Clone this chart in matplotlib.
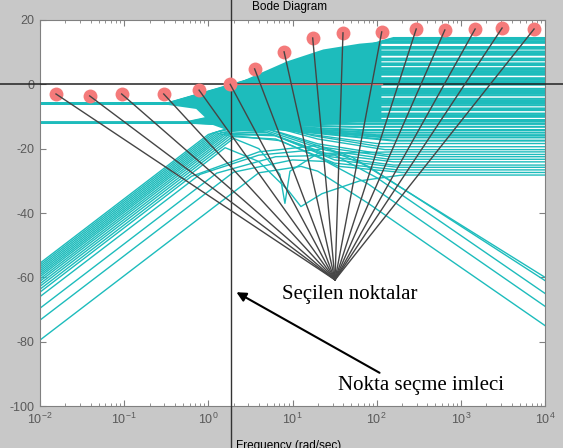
import numpy as np
import matplotlib.pyplot as plt

plt.rcParams['font.family'] = ['Liberation Sans', 'DejaVu Sans']
plt.rcParams['axes.unicode_minus'] = False
plt.rcParams['mathtext.default'] = 'regular'

# all curves: (log10 frequency [rad/s], magnitude [dB])

# curves that start flat at -6 dB and leave it towards a plateau
six_plateau = [14.4, 13.9, 13.4, 12.9, 11.6, 11.1, 10.2, 9.7, 9.2, 8.0, 7.5, 6.5,
               6.0, 5.0, 4.5, 4.0, 3.5, 3.0, 1.9, 1.4, 0.9, 0.4, -0.1,
               -6.5, -7.5, -8.0, -9.1]
six_leave = [-0.50, -0.49, -0.48, -0.47, -0.46, -0.45, -0.44, -0.43, -0.42, -0.41,
             -0.40, -0.39, -0.38, -0.37, -0.36, -0.35, -0.34, -0.33, -0.32, -0.31,
             -0.30, -0.29, -0.28, -0.45, -0.42, -0.40, -0.38]
six_settle = [2.20, 2.15, 2.10, 2.05, 2.00, 1.95, 1.90, 1.86, 1.82, 1.78, 1.74, 1.70,
              1.66, 1.62, 1.58, 1.55, 1.52, 1.49, 1.46, 1.44, 1.42, 1.40, 1.38,
              0.60, 0.80, 1.00, 1.20]

# curves that start flat at -12 dB
twelve_plateau = [-1.4, -1.9, -2.4, -2.9, -3.4, -4.5, -5.0, -5.5, -6.0, -9.6, -10.1,
                  -11.1, -11.6, -12.3, -13.2, -14.2, -15.0, -15.8, -16.5, -17.5]
twelve_leave = [-0.30, -0.28, -0.26, -0.24, -0.22, -0.20, -0.18, -0.16, -0.14, -0.12,
                -0.10, -0.08, -0.06, -0.25, -0.20, -0.15, -0.10, -0.05, 0.00, 0.05]
twelve_settle = [1.60, 1.58, 1.56, 1.54, 1.52, 1.50, 1.48, 1.46, 1.44, 1.30, 1.25,
                 1.20, 1.15, 1.60, 1.70, 1.80, 1.90, 2.00, 2.10, 2.20]

# curves rising at +20 dB/dec from the left edge
rising_curves = [
    [(-2, -55.6), (0.00, -15.6), (0.50, -11.6), (1.20, -15.5), (2.00, -18.4), (4, -18.4)],
    [(-2, -56.2), (0.05, -15.2), (0.55, -11.5), (1.25, -16.0), (2.05, -19.4), (4, -19.4)],
    [(-2, -56.8), (0.10, -14.8), (0.60, -12.0), (1.30, -17.0), (2.10, -20.3), (4, -20.3)],
    [(-2, -57.4), (0.10, -15.4), (0.60, -13.0), (1.30, -18.5), (2.10, -21.8), (4, -21.8)],
    [(-2, -58.0), (0.15, -15.0), (0.65, -13.5), (1.35, -19.5), (2.15, -22.5), (4, -22.5)],
    [(-2, -58.6), (0.15, -15.6), (0.70, -14.5), (1.40, -20.5), (2.15, -23.3), (4, -23.3)],
    [(-2, -59.2), (0.20, -15.2), (0.70, -15.0), (1.40, -21.5), (2.20, -24.1), (4, -24.1)],
    [(-2, -59.8), (0.20, -15.8), (0.75, -15.5), (1.45, -22.5), (2.20, -25.1), (4, -25.1)],
    [(-2, -60.5), (0.25, -15.5), (0.80, -16.0), (1.50, -23.5), (2.25, -25.8), (4, -25.8)],
    [(-2, -61.2), (0.25, -16.2), (0.80, -17.0), (1.50, -24.5), (2.25, -26.6), (4, -26.6)],
    [(-2, -62.0), (0.30, -16.0), (0.85, -17.5), (1.55, -25.5), (2.30, -27.4), (4, -27.4)],
]

# two curves with a notch
notch_curves = [
    [(-2, -62.8), (0.30, -16.8), (0.60, -20.0), (0.85, -28.0), (0.91, -37.0),
     (0.97, -27.0), (1.30, -21.5), (2.20, -21.0), (4, -21.0)],
    [(-2, -63.7), (0.20, -19.7), (0.60, -24.0), (0.95, -33.0), (1.10, -38.0),
     (1.35, -34.0), (1.80, -30.0), (2.30, -28.2), (4, -28.2)],
]

# curves that rise, peak and fall off at the right
falling_curves = [
    [(-2, -64.6), (-0.20, -28.6), (0.60, -21.0), (1.30, -19.0), (1.70, -22.5), (4, -60.0)],
    [(-2, -66.0), (-0.10, -28.0), (0.60, -22.0), (1.40, -20.0), (1.90, -25.5), (4, -61.0)],
    [(-2, -69.6), (0.10, -27.6), (0.80, -22.5), (1.50, -22.0), (2.00, -29.0), (4, -65.0)],
    [(-2, -73.3), (0.30, -27.3), (1.00, -23.5), (1.40, -24.0), (1.90, -31.0), (4, -69.0)],
    [(-2, -79.5), (0.60, -27.5), (1.10, -25.5), (1.30, -27.0), (1.90, -37.0), (4, -75.0)],
]

# solid core of the family in the middle
core_logf = [-0.50, -0.15, 0.05, 0.26, 0.60, 0.93, 1.36, 1.79, 2.05]
core_top = [-6.0, -3.8, -2.4, -0.4, 3.5, 7.3, 11.0, 12.8, 13.4]
core_bottom = [-6.2, -7.5, -12.5, -14.5, -14.5, -13.5, -12.5, -11.5, -11.0]

# selected points and the cursor
dot_logf = [-1.81, -1.41, -1.03, -0.53, -0.11, 0.26, 0.55, 0.90, 1.24, 1.60,
            2.06, 2.47, 2.81, 3.17, 3.49, 3.87]
dot_db = [-3.0, -3.6, -3.0, -3.0, -1.8, 0.0, 4.8, 10.1, 14.4, 16.0,
          16.3, 17.2, 16.9, 17.2, 17.5, 17.2]
apex_logf, apex_db = 1.505, -60.8
cursor_logf = 0.27

teal = '#1dbcbc'

fig = plt.figure(figsize=(5.63, 4.48), dpi=100, facecolor='#c8c8c8')
ax = fig.add_axes([40 / 563, 42 / 448, 505 / 563, 386 / 448])
ax.set_facecolor('white')
ax.set_xscale('log')


def draw(lf, db, lw=1.5):
    ax.plot(10 ** np.array(lf), db, color=teal, lw=lw, zorder=2)


ax.fill_between(10 ** np.array(core_logf), core_bottom, core_top, color=teal, lw=0, zorder=2)
for p, a, b in zip(six_plateau, six_leave, six_settle):
    draw([-2, a, b, 4], [-6, -6, p, p])
for p, a, b in zip(twelve_plateau, twelve_leave, twelve_settle):
    draw([-2, a, b, 4], [-12, -12, p, p])
for curve in rising_curves + notch_curves + falling_curves:
    lf, db = zip(*curve)
    draw(lf, db, lw=1.0)

ax.set_xlim(1e-2, 1e4)
ax.set_ylim(-100, 20)
ax.set_yticks(range(-100, 21, 20))
ax.tick_params(which='both', direction='in', top=True, right=True,
               colors='#808080', labelcolor='#5a5a5a', labelsize=9)
ax.tick_params(which='major', length=4, pad=4)
ax.tick_params(which='minor', length=2.5)
for s in ax.spines.values():
    s.set_color('#808080')
    s.set_linewidth(0.8)

# 0 dB line and cursor run over the whole figure
ax.axhline(0, xmin=-0.08, xmax=1.04, color='#222222', lw=1.1, clip_on=False, zorder=3)
ax.plot([10 ** 0.26, 10 ** 2.06], [0, 0], color='#e06a6a', lw=1, zorder=3)
ax.axvline(10 ** cursor_logf, ymin=-0.11, ymax=1.06, color='#333333', lw=1,
           clip_on=False, zorder=3)

# lines from the selected points to the label
for x, y in zip(dot_logf, dot_db):
    ax.plot([10 ** x, 10 ** apex_logf], [y, apex_db], color='#454545', lw=1.0, zorder=5)
ax.plot(10 ** np.array(dot_logf), dot_db, 'o', color='#f47a7a', ms=10, mec='none',
        zorder=4, clip_on=False)

serif = ['Liberation Serif', 'DejaVu Serif']
ax.text(10 ** 0.875, -65.2, 'Seçilen noktalar', family=serif, fontsize=15,
        va='center', ha='left', zorder=6)
ax.text(10 ** 1.54, -93.5, 'Nokta seçme imleci', family=serif, fontsize=15,
        va='center', ha='left', zorder=6)
ax.annotate('', xy=(10 ** 0.305, -64.2), xytext=(10 ** 2.063, -90.1),
            arrowprops=dict(arrowstyle='-|>', color='black', lw=1.5, mutation_scale=14),
            zorder=6)

fig.text(290 / 563, 1 - 7 / 448, 'Bode Diagram', ha='center', va='center', fontsize=8.5)
fig.text(236 / 563, 8 / 448, 'Frequency (rad/sec)', ha='left', va='top', fontsize=8.5)

fig.savefig('out.png', dpi=100, facecolor=fig.get_facecolor())
